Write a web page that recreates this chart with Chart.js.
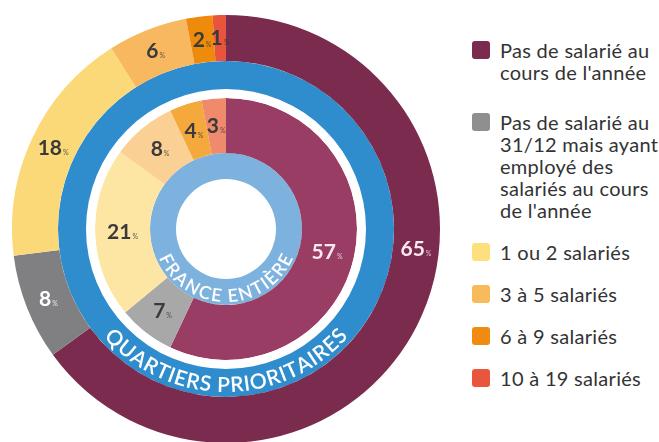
<!DOCTYPE html>
<html>
<head>
<meta charset="utf-8">
<script src="https://cdn.jsdelivr.net/npm/chart.js@4"></script>
<style>
  html, body { margin: 0; padding: 0; background: #fff; }
  #wrap { position: relative; width: 659px; height: 442px; overflow: hidden; font-family: Lato, sans-serif; }
  #chartBox { position: absolute; left: 12px; top: 15px; width: 428px; height: 428px; }
  #legend { position: absolute; left: 472px; top: 39px; color: #333; font-size: 20px; line-height: 22px; letter-spacing: 0.3px; }
  .item { display: flex; align-items: flex-start; margin-bottom: 20px; }
  .item:first-child { margin-bottom: 28px; }
  .sw { width: 18px; height: 18px; border-radius: 3px; margin-top: 2px; margin-right: 10px; flex: none; }
  .txt { white-space: nowrap; }
</style>
</head>
<body>
<div id="wrap">
  <div id="chartBox"><canvas id="chart"></canvas></div>
  <div id="legend"></div>
</div>
<script>
const categories = [
  ['Pas de salarié au', "cours de l'année"],
  ['Pas de salarié au', '31/12 mais ayant', 'employé des', 'salariés au cours', "de l'année"],
  ['1 ou 2 salariés'],
  ['3 à 5 salariés'],
  ['6 à 9 salariés'],
  ['10 à 19 salariés'],
];
const quartiersValues = [65, 8, 18, 6, 2, 1];
const franceValues = [57, 7, 21, 8, 4, 3];

const outerColors = ['#7a2b4e', '#808083', '#fcd978', '#f8b860', '#ee8a0c', '#e8553c'];
const innerColors = ['#9a3d65', '#a8a8a8', '#fde6a3', '#fbd094', '#f5a93c', '#ef8a6c'];
const legendColors = ['#7a2b4e', '#8f8f8f', '#fde07e', '#f7bb5b', '#ef8b0f', '#e8573d'];
const outerLabelColors = ['#fbe9f0', '#ffffff', '#3a3a3a', '#3a3a3a', '#3a3a3a', '#3a3a3a'];
const innerLabelColors = ['#fbe9f0', '#3a3a3a', '#3a3a3a', '#3a3a3a', '#3a3a3a', '#3a3a3a'];

// legend
const legendEl = document.getElementById('legend');
categories.forEach((lines, i) => {
  const item = document.createElement('div');
  item.className = 'item';
  item.innerHTML = `<span class="sw" style="background:${legendColors[i]}"></span><span class="txt">${lines.join('<br>')}</span>`;
  legendEl.appendChild(item);
});

function drawCurved(ctx, cx, cy, text, rBase, font, spacing) {
  ctx.save();
  ctx.font = font;
  ctx.fillStyle = '#fff';
  ctx.textAlign = 'center';
  ctx.textBaseline = 'alphabetic';
  const rMid = rBase - 7;
  const chars = [...text];
  const widths = chars.map(c => ctx.measureText(c).width + spacing);
  const total = widths.reduce((a, b) => a + b, 0);
  let a = Math.PI + total / rMid / 2;
  chars.forEach((ch, i) => {
    const th = a - widths[i] / 2 / rMid;
    ctx.save();
    ctx.translate(cx + rBase * Math.sin(th), cy - rBase * Math.cos(th));
    ctx.rotate(th - Math.PI);
    ctx.fillText(ch, 0, 0);
    ctx.restore();
    a -= widths[i] / rMid;
  });
  ctx.restore();
}

const ringText = {
  id: 'ringText',
  afterDatasetsDraw(chart) {
    const ctx = chart.ctx;
    const band = chart.getDatasetMeta(1).data[0];
    const light = chart.getDatasetMeta(4).data[0];
    drawCurved(ctx, band.x, band.y, 'QUARTIERS PRIORITAIRES', band.outerRadius - 5, '600 21px Lato', 0.3);
    drawCurved(ctx, light.x, light.y, 'FRANCE ENTIÈRE', light.outerRadius - 3, '600 18px Lato', 0.6);
  }
};

const sliceLabels = {
  id: 'sliceLabels',
  afterDatasetsDraw(chart, args, opts) {
    const ctx = chart.ctx;
    opts.rings.forEach(ring => {
      const meta = chart.getDatasetMeta(ring.index);
      const values = chart.data.datasets[ring.index].data;
      meta.data.forEach((arc, i) => {
        let ang = (arc.startAngle + arc.endAngle) / 2;
        if (ring.angles && ring.angles[i] != null) ang = (ring.angles[i] - 90) * Math.PI / 180;
        const r = (arc.innerRadius + arc.outerRadius) / 2;
        const x = arc.x + r * Math.cos(ang);
        const y = arc.y + r * Math.sin(ang);
        const num = String(values[i]);
        ctx.save();
        ctx.fillStyle = ring.colors[i];
        ctx.textBaseline = 'alphabetic';
        ctx.textAlign = 'left';
        ctx.font = '700 21px Lato';
        const nw = ctx.measureText(num).width;
        ctx.font = '400 7px Lato';
        const pw = ctx.measureText('%').width;
        const left = x - (nw + pw + 1) / 2;
        ctx.font = '700 21px Lato';
        ctx.fillText(num, left, y + 7);
        ctx.globalAlpha = 0.8;
        ctx.font = '400 7px Lato';
        ctx.fillText('%', left + nw + 1, y + 7);
        ctx.restore();
      });
    });
  }
};

new Chart(document.getElementById('chart'), {
  type: 'doughnut',
  data: {
    labels: categories,
    datasets: [
      { label: 'Quartiers prioritaires', data: quartiersValues, backgroundColor: outerColors, weight: 46 },
      { data: [1], backgroundColor: '#2f8ccd', weight: 28 },
      { data: [1], backgroundColor: '#ffffff', weight: 9 },
      { label: 'France entière', data: franceValues, backgroundColor: innerColors, weight: 55 },
      { data: [1], backgroundColor: '#7eb2de', weight: 26 },
    ],
  },
  options: {
    responsive: true,
    maintainAspectRatio: false,
    animation: false,
    events: [],
    cutout: 50,
    rotation: 0,
    layout: { padding: 0 },
    elements: { arc: { borderWidth: 0 } },
    plugins: {
      legend: { display: false },
      tooltip: { enabled: false },
      sliceLabels: {
        rings: [
          { index: 0, colors: outerLabelColors, angles: [96] },
          { index: 3, colors: innerLabelColors },
        ],
      },
    },
  },
  plugins: [ringText, sliceLabels],
});
</script>
</body>
</html>
